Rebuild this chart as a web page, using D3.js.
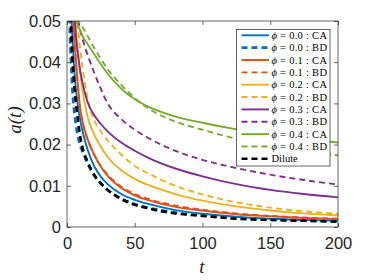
<!DOCTYPE html>
<html><head><meta charset="utf-8">
<script src="https://cdn.jsdelivr.net/npm/d3@7"></script>
<style>body{margin:0;background:#fff;} svg{display:block}</style>
</head><body>
<svg id="chart" width="374" height="280"></svg>
<script>
// ---------- data ----------
const tValues = [1,2,3,4,5,6,8,10,12,15,20,25,30,40,50,60,80,100,125,150,175,200];
const phi00CA = [0.09,0.066,0.054,0.046,0.040,0.0355,0.0295,0.0255,0.0225,0.0190,0.0148,0.0122,0.0104,0.0080,0.0066,0.0056,0.0041,0.0032,0.0025,0.0020,0.0017,0.0015];
const phi00BD = [0.080,0.049,0.040,0.033,0.029,0.0262,0.0220,0.0195,0.0178,0.0155,0.0125,0.0105,0.0090,0.0069,0.0056,0.0047,0.0035,0.0028,0.0022,0.0018,0.0016,0.0014];
const phi01CA = [0.10,0.075,0.062,0.054,0.048,0.043,0.0345,0.0282,0.0248,0.0215,0.0176,0.0146,0.0124,0.0095,0.0077,0.0065,0.0049,0.0040,0.0031,0.0026,0.0022,0.0019];
const phi01BD = [0.10,0.074,0.061,0.053,0.047,0.0425,0.0345,0.0280,0.0247,0.0214,0.0176,0.0148,0.0127,0.0098,0.0080,0.0068,0.0052,0.0042,0.0033,0.0027,0.0023,0.0020];
const phi02CA = [0.11,0.085,0.072,0.063,0.056,0.051,0.043,0.0365,0.0320,0.0270,0.0225,0.0195,0.0170,0.0138,0.0117,0.0102,0.0080,0.0064,0.0050,0.0040,0.0033,0.0028];
const phi02BD = [0.12,0.095,0.082,0.072,0.064,0.058,0.049,0.0425,0.0375,0.0315,0.0260,0.0232,0.0210,0.0176,0.0148,0.0130,0.0100,0.0079,0.0060,0.0047,0.0038,0.0032];
const phi03CA = [0.13,0.10,0.080,0.066,0.056,0.049,0.0420,0.0375,0.0342,0.0305,0.0272,0.0250,0.0232,0.0205,0.0185,0.0168,0.0142,0.0123,0.0104,0.0090,0.0080,0.0072];
const phi03BD = [0.14,0.11,0.090,0.075,0.064,0.057,0.051,0.0475,0.0450,0.0420,0.0375,0.0335,0.0300,0.0262,0.0236,0.0216,0.0185,0.0163,0.0143,0.0127,0.0114,0.0103];
const phi04CA = [0.15,0.11,0.085,0.069,0.058,0.052,0.0490,0.0475,0.0460,0.0445,0.0420,0.0395,0.0372,0.0336,0.0310,0.0292,0.0268,0.0253,0.0237,0.0224,0.0213,0.0205];
const phi04BD = [0.16,0.12,0.095,0.078,0.066,0.058,0.0505,0.0493,0.0482,0.0465,0.0435,0.0408,0.0383,0.0345,0.0313,0.0288,0.0256,0.0236,0.0214,0.0197,0.0184,0.0174];
const dilute  = [0.09,0.062,0.049,0.041,0.036,0.032,0.0260,0.0215,0.0186,0.0160,0.0127,0.0106,0.0090,0.0068,0.0054,0.0045,0.0033,0.0027,0.0020,0.0017,0.0015,0.0013];

const phiLabels = ["0.0","0.0","0.1","0.1","0.2","0.2","0.3","0.3","0.4","0.4"];
const modelLabels = ["CA","BD","CA","BD","CA","BD","CA","BD","CA","BD"];
const diluteLabel = "Dilute";
const xTicks = [0,50,100,150,200];
const yTicks = [0,0.01,0.02,0.03,0.04,0.05];
const xLabel = "t";
const yLabel = "a(t)";

// ---------- styles ----------
const seriesValues = [phi00CA,phi00BD,phi01CA,phi01BD,phi02CA,phi02BD,phi03CA,phi03BD,phi04CA,phi04BD,dilute];
const colors = ["#0072BD","#0072BD","#D95319","#D95319","#EDB120","#EDB120","#7E2F8E","#7E2F8E","#77AC30","#77AC30","#000000"];
const dashed = [false,true,false,true,false,true,false,true,false,true,true];
const widths = [1.9,2.6,1.9,1.9,1.9,1.9,1.9,1.9,1.9,1.9,2.6];

const svg = d3.select("#chart");
const x = d3.scaleLinear().domain([0,200]).range([67,338]);
const y = d3.scaleLinear().domain([0,0.05]).range([227,21]);

svg.append("defs").append("clipPath").attr("id","clip")
  .append("rect").attr("x",67).attr("y",21).attr("width",271).attr("height",206);

const line = d3.line().x(d=>x(d[0])).y(d=>y(d[1])).curve(d3.curveMonotoneX);
const gLines = svg.append("g").attr("clip-path","url(#clip)");
seriesValues.forEach((vals,i)=>{
  gLines.append("path")
    .datum(tValues.map((t,j)=>[t,vals[j]]))
    .attr("d",line)
    .attr("fill","none")
    .attr("stroke",colors[i])
    .attr("stroke-width",widths[i])
    .attr("stroke-dasharray",dashed[i]?"6,4":null);
});

// axes
const axisColor = "#262626";
const tickFont = "'Liberation Sans', Arial, sans-serif";
const gx = svg.append("g").attr("transform","translate(0,227)")
  .call(d3.axisBottom(x).tickValues(xTicks).tickSizeInner(-4).tickSizeOuter(0).tickPadding(10).tickFormat(d3.format("d")));
const gy = svg.append("g").attr("transform","translate(67,0)")
  .call(d3.axisLeft(y).tickValues(yTicks).tickSizeInner(-4).tickSizeOuter(0).tickPadding(6).tickFormat(d=>d===0?"0":d3.format(".2f")(d)));
const gt = svg.append("g").attr("transform","translate(0,21)")
  .call(d3.axisTop(x).tickValues(xTicks).tickSizeInner(-4).tickSizeOuter(0).tickFormat(""));
const gr = svg.append("g").attr("transform","translate(338,0)")
  .call(d3.axisRight(y).tickValues(yTicks).tickSizeInner(-4).tickSizeOuter(0).tickFormat(""));
[gx,gy,gt,gr].forEach(g=>{
  g.select(".domain").remove();
  g.selectAll("line").attr("stroke",axisColor).attr("stroke-width",0.7);
  g.selectAll("text").attr("fill",axisColor).style("font-family",tickFont).style("font-size","16.5px");
});
svg.append("rect").attr("x",67).attr("y",21).attr("width",271).attr("height",206)
  .attr("fill","none").attr("stroke",axisColor).attr("stroke-width",0.7);

// axis labels
svg.append("text").attr("x",202).attr("y",273).attr("text-anchor","middle")
  .style("font-family","'Liberation Serif', 'DejaVu Serif', serif").style("font-style","italic")
  .style("font-size","19px").attr("fill",axisColor).text(xLabel);
svg.append("text").attr("transform","translate(21,120) rotate(-90)").attr("text-anchor","middle")
  .style("font-family","'Liberation Serif', 'DejaVu Serif', serif").style("font-style","italic")
  .style("font-size","19px").attr("fill",axisColor).text(yLabel);

// legend
const lg = svg.append("g");
lg.append("rect").attr("x",236.5).attr("y",29.5).attr("width",93.5).attr("height",136.5)
  .attr("fill","#fff").attr("stroke",axisColor).attr("stroke-width",0.7);
const legendTexts = phiLabels.map((p,i)=>({phi:p, m:modelLabels[i]}));
legendTexts.push({dilute:diluteLabel});
legendTexts.forEach((d,i)=>{
  const yy = 35.3 + i*12.35;
  lg.append("line").attr("x1",241.5).attr("x2",269).attr("y1",yy).attr("y2",yy)
    .attr("stroke",colors[i]).attr("stroke-width",widths[i])
    .attr("stroke-dasharray",dashed[i]?"6,4":null);
  const tx = lg.append("text").attr("x",271.5).attr("y",yy+3.6)
    .style("font-family","'Liberation Serif', 'DejaVu Serif', serif").style("font-size","10.5px")
    .attr("fill","#000").attr("xml:space","preserve");
  if (d.dilute) { tx.text(d.dilute); }
  else {
    tx.attr("textLength",55.5).attr("lengthAdjust","spacing");
    tx.append("tspan").style("font-style","italic").text("ϕ");
    tx.append("tspan").text(" = " + d.phi + " : " + d.m);
  }
});
</script>
</body></html>
